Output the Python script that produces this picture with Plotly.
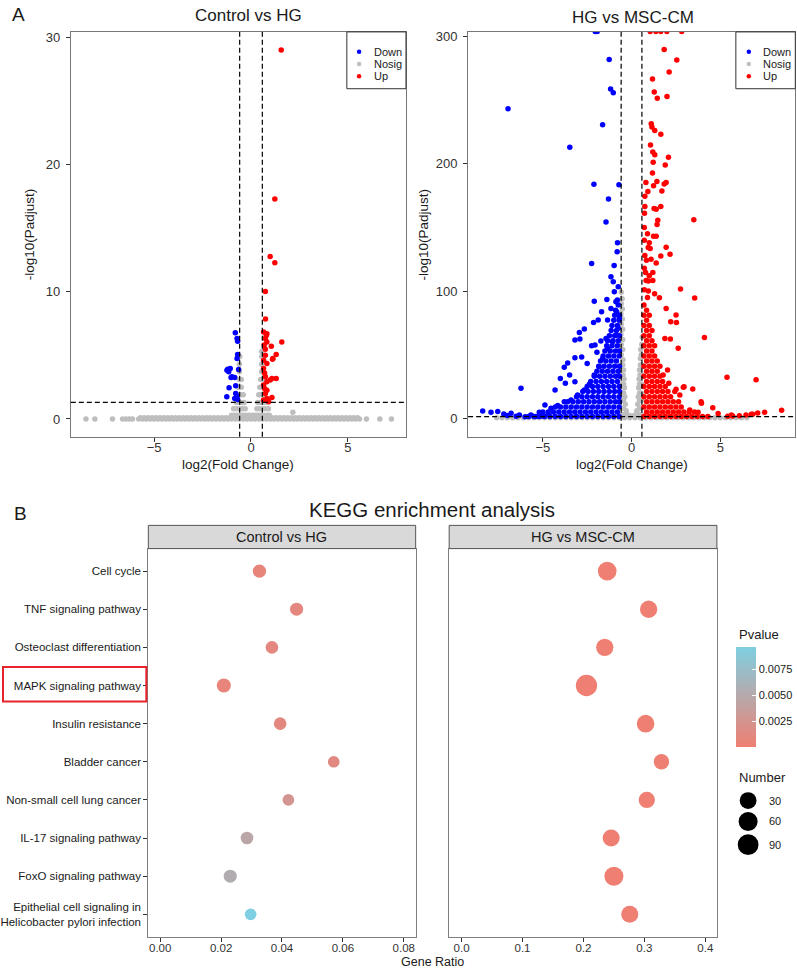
import math
import plotly.graph_objects as go

W, H = 797, 969
FONT = "Liberation Sans, Arial, sans-serif"

# ---------------- Volcano data: Control vs HG (log2FC, -log10 Padj) ----------------
ctrl_up = [
    (1.56, 28.97), (1.23, 17.27), (0.99, 12.76), (1.23, 12.26), (0.74, 10.02), (0.75, 7.85),
    (0.65, 6.83), (0.82, 6.70), (0.79, 6.55), (1.59, 6.05), (0.74, 6.31), (0.82, 6.05), (1.05, 5.71),
    (1.30, 5.06), (1.11, 4.69), (0.74, 5.47), (0.74, 5.00), (0.65, 4.61), (0.82, 4.35), (0.65, 3.96),
    (0.70, 3.60), (1.08, 3.18), (1.30, 3.18), (0.99, 3.05), (0.74, 3.31), (0.82, 2.92), (0.65, 2.66),
    (0.70, 2.40), (0.82, 2.26), (0.74, 2.00), (1.08, 1.69), (0.82, 1.61), (0.65, 1.48), (0.86, 1.48),
    (0.91, 1.35), (0.68, 5.80), (1.13, 4.75),
]
ctrl_down = [
    (-0.81, 6.78), (-0.72, 6.31), (-0.69, 6.10), (-0.69, 5.06), (-0.72, 4.74), (-0.64, 3.88),
    (-1.24, 3.83), (-1.07, 3.96), (-1.15, 3.70), (-1.20, 3.91), (-1.03, 3.26), (-0.84, 3.26),
    (-0.98, 3.31), (-0.79, 2.60), (-1.13, 2.45), (-0.79, 2.00), (-1.25, 1.74), (-0.84, 1.61),
    (-0.69, 1.53), (-0.72, 1.80),
]
ctrl_nosig = [
    (-8.52, 0), (-8.06, 0), (-7.15, 0), (-6.63, 0), (-6.46, 0), (-6.29, 0), (-6.12, 0),
    (-5.8, 0), (-5.6, 0), (-5.4, 0), (-5.2, 0), (-5.0, 0), (-4.8, 0), (-4.6, 0), (-4.4, 0),
    (-4.2, 0), (-4.0, 0), (-3.8, 0), (-3.6, 0), (-3.4, 0), (-3.2, 0), (-3.0, 0), (-2.8, 0),
    (-2.6, 0), (-2.4, 0), (-2.2, 0), (-2.0, 0), (-1.8, 0), (-1.6, 0), (-1.4, 0), (-1.2, 0),
    (-1.0, 0), (-0.8, 0), (-0.6, 0), (-0.4, 0), (-0.2, 0), (0.0, 0), (0.2, 0), (0.4, 0),
    (0.6, 0), (0.8, 0), (1.0, 0), (1.2, 0), (1.4, 0), (1.6, 0), (1.8, 0), (2.0, 0), (2.2, 0),
    (2.4, 0), (2.6, 0), (2.8, 0), (3.0, 0), (3.2, 0), (3.4, 0), (3.6, 0), (3.8, 0), (4.0, 0),
    (4.2, 0), (4.4, 0), (4.6, 0), (4.8, 0), (5.0, 0), (5.2, 0), (5.4, 0), (5.6, 0),
    (-5.7, 0.1), (-5.5, 0.1), (-5.3, 0.1), (-5.1, 0.1), (-4.9, 0.1), (-4.7, 0.1), (-4.5, 0.1),
    (-4.3, 0.1), (-4.1, 0.1), (-3.9, 0.1), (-3.7, 0.1), (-3.5, 0.1), (-3.3, 0.1), (-3.1, 0.1),
    (-2.9, 0.1), (-2.7, 0.1), (-2.5, 0.1), (-2.3, 0.1), (-2.1, 0.1), (-1.9, 0.1), (-1.7, 0.1),
    (-1.5, 0.1), (-1.3, 0.1), (-1.1, 0.1), (1.1, 0.1), (1.3, 0.1), (1.5, 0.1), (1.7, 0.1),
    (1.9, 0.1), (2.1, 0.1), (2.3, 0.1), (2.5, 0.1), (2.7, 0.1), (2.9, 0.1), (3.1, 0.1), (3.3, 0.1),
    (3.5, 0.1), (3.7, 0.1), (3.9, 0.1), (4.1, 0.1), (4.3, 0.1), (4.5, 0.1), (4.7, 0.1), (4.9, 0.1),
    (5.1, 0.1), (5.3, 0.1), (5.5, 0.1),
    (5.96, 0), (6.65, 0), (7.25, 0), (2.16, 0.52),
    (-1.0, 0.3), (-0.85, 0.3), (-0.7, 0.3), (-0.55, 0.3), (-0.4, 0.3), (-0.25, 0.3), (-0.1, 0.3),
    (0.1, 0.3), (0.25, 0.3), (0.4, 0.3), (0.55, 0.3), (0.7, 0.3), (0.85, 0.3), (0.95, 0.3),
    (-0.9, 0.8), (-0.75, 0.8), (-0.6, 0.8), (-0.45, 0.8), (-0.3, 0.8),
    (0.3, 0.8), (0.45, 0.8), (0.6, 0.8), (0.75, 0.8), (0.9, 0.8),
    (-0.75, 1.3), (-0.6, 1.3), (-0.45, 1.3), (-0.35, 1.3), (0.35, 1.3), (0.45, 1.3), (0.6, 1.3), (0.75, 1.3),
    (-0.65, 1.9), (-0.5, 1.9), (-0.4, 1.9), (0.4, 1.9), (0.5, 1.9), (0.65, 1.9),
    (-0.65, 2.5), (-0.5, 2.5), (0.45, 2.5), (0.6, 2.5),
    (-0.6, 3.1), (-0.5, 3.1), (0.5, 3.1), (0.6, 3.1),
    (-0.6, 3.7), (0.55, 3.7), (-0.6, 4.3), (0.55, 4.3), (-0.58, 4.9), (0.56, 4.9), (0.55, 5.3),
]

# ---------------- Volcano data: HG vs MSC-CM ----------------
hg_down = [
    (-1.93, 304), (-2.05, 304), (-1.26, 282.1), (-6.96, 243.4), (-1.18, 258.8), (-1.03, 255.9),
    (-1.63, 230.7), (-3.48, 213.0), (-2.12, 184.0), (-0.71, 183.5), (-1.30, 172.4), (-1.44, 154.4),
    (-0.79, 138.0), (-0.81, 131.0), (-2.25, 121.6), (-0.98, 120.2),
    (-1.16, 111.2), (-1.03, 107.3), (-0.75, 103.4), (-0.97, 99.5), (-2.10, 92.1), (-1.39, 93.4),
    (-0.88, 91.6), (-1.69, 83.8), (-1.16, 86.4), (-2.14, 75.4), (-1.88, 77.2), (-1.35, 77.2),
    (-2.66, 70.2), (-2.94, 67.5), (-3.19, 61.5), (-2.91, 62.3), (-2.25, 57.1), (-2.06, 57.6),
    (-1.73, 60.7), (-1.44, 62.8), (-3.19, 47.7), (-2.81, 48.2), (-3.60, 43.5), (-3.79, 40.1),
    (-3.49, 34.1), (-4.01, 31.4), (-3.73, 27.5), (-3.19, 28.8), (-4.31, 22.3), (-6.23, 23.6),
    (-4.88, 10.5), (-8.39, 5.8), (-7.92, 4.8), (-7.54, 5.3), (-6.79, 4.0), (-6.32, 2.6),
    (-5.67, 2.6), (-5.20, 4.8), (-4.54, 7.9), (-4.16, 10.0), (-3.79, 13.1), (-3.41, 14.4),
    (-3.04, 18.3), (-2.66, 22.3), (-2.38, 26.7), (-2.10, 34.1), (-1.82, 40.6), (-1.63, 47.1),
    (-1.35, 55.0), (-1.07, 60.2), (-0.88, 65.4), (-0.75, 70.7), (-0.69, 78.5), (-0.84, 83.8),
    (-7.2, 3.5), (-7.0, 2.2), (-6.5, 1.6), (-6.0, 1.2), (-5.4, 1.5), (-5.0, 1.8), (-4.7, 3.2),
    (-2.5, 43.0), (-1.95, 52.0),
    # dense cloud near the cut-off
    (-5.8, 1.5), (-5.5, 1.5), (-5.2, 1.5), (-4.9, 1.5), (-4.6, 1.5), (-4.3, 1.5), (-4.0, 1.5),
    (-3.7, 1.5), (-3.4, 1.5), (-3.1, 1.5), (-2.8, 1.5), (-2.5, 1.5), (-2.2, 1.5), (-1.9, 1.5),
    (-1.6, 1.5), (-1.3, 1.5), (-1.0, 1.5), (-0.7, 1.5),
    (-5.0, 5), (-4.7, 5), (-4.4, 5), (-4.1, 5), (-3.8, 5), (-3.5, 5), (-3.2, 5), (-2.9, 5),
    (-2.6, 5), (-2.3, 5), (-2.0, 5), (-1.7, 5), (-1.4, 5), (-1.1, 5), (-0.8, 5),
    (-4.3, 9), (-4.0, 9), (-3.7, 9), (-3.4, 9), (-3.1, 9), (-2.8, 9), (-2.5, 9), (-2.2, 9),
    (-1.9, 9), (-1.6, 9), (-1.3, 9), (-1.0, 9), (-0.7, 9),
    (-3.6, 13), (-3.3, 13), (-3.0, 13), (-2.7, 13), (-2.4, 13), (-2.1, 13), (-1.8, 13),
    (-1.5, 13), (-1.2, 13), (-0.9, 13), (-0.68, 13),
    (-3.1, 17), (-2.8, 17), (-2.5, 17), (-2.2, 17), (-1.9, 17), (-1.6, 17), (-1.3, 17),
    (-1.0, 17), (-0.7, 17),
    (-2.75, 21), (-2.45, 21), (-2.15, 21), (-1.85, 21), (-1.55, 21), (-1.25, 21), (-0.95, 21), (-0.68, 21),
    (-2.5, 25), (-2.2, 25), (-1.9, 25), (-1.6, 25), (-1.3, 25), (-1.0, 25), (-0.7, 25),
    (-2.3, 29), (-2.0, 29), (-1.7, 29), (-1.4, 29), (-1.1, 29), (-0.8, 29),
    (-2.1, 33), (-1.8, 33), (-1.5, 33), (-1.2, 33), (-0.9, 33), (-0.68, 33),
    (-1.95, 37), (-1.65, 37), (-1.35, 37), (-1.05, 37), (-0.75, 37),
    (-1.85, 41), (-1.55, 41), (-1.25, 41), (-0.95, 41), (-0.68, 41),
    (-1.75, 45), (-1.45, 45), (-1.15, 45), (-0.85, 45),
    (-1.6, 49), (-1.3, 49), (-1.0, 49), (-0.7, 49),
    (-1.5, 53), (-1.2, 53), (-0.9, 53), (-0.68, 53),
    (-1.4, 57), (-1.1, 57), (-0.8, 57),
    (-1.35, 61), (-1.05, 61), (-0.75, 61),
    (-1.25, 65), (-0.95, 65), (-0.68, 65),
    (-1.15, 69), (-0.85, 69), (-1.1, 73), (-0.8, 73), (-1.0, 77), (-0.7, 77),
    (-0.95, 81), (-0.68, 81), (-0.9, 85), (-0.75, 89), (-0.8, 93),
]
hg_up = [
    (1.05, 304), (1.37, 304), (1.65, 304), (1.99, 304), (2.83, 304),
    (1.84, 289.9), (2.55, 281.6), (2.12, 272.1), (1.18, 266.6), (1.28, 256.4), (1.45, 251.5),
    (2.00, 253.0), (1.11, 231.6), (1.15, 229.0), (1.31, 226.3), (1.65, 223.2), (1.07, 214.8),
    (1.20, 209.3), (1.31, 207.2), (2.08, 205.2), (1.22, 201.2), (1.90, 199.1), (1.18, 192.9),
    (0.81, 185.3), (1.43, 186.1), (1.95, 185.3), (1.84, 184.2), (1.24, 182.7), (0.92, 178.2),
    (1.71, 178.7), (0.75, 174.6), (0.75, 166.4), (0.73, 161.2), (1.27, 164.9), (1.39, 164.4),
    (1.65, 166.4), (1.48, 155.7), (1.44, 152.3), (3.51, 156.0), (1.24, 143.2), (1.39, 143.2),
    (0.94, 134.3), (1.05, 133.5), (1.95, 134.5), (2.17, 129.0), (1.65, 127.5), (0.84, 124.3),
    (1.39, 122.0), (0.79, 114.7), (1.20, 114.7), (0.82, 108.4), (1.20, 108.4), (2.76, 101.6),
    (3.56, 94.5), (1.57, 94.8), (1.95, 86.4), (2.51, 81.2), (4.11, 63.6), (2.63, 55.0),
    (2.19, 62.3), (5.38, 32.2), (7.02, 30.4), (3.45, 23.1), (2.51, 22.8), (2.92, 24.4),
    (3.92, 13.1), (4.58, 8.4), (8.46, 6.3), (7.11, 4.2), (6.83, 3.2), (6.45, 2.7), (5.70, 1.9),
    (5.42, 1.6), (6.08, 2.1), (2.53, 75.4), (2.21, 75.9), (1.88, 62.8), (2.03, 38.0), (1.78, 34.1),
    (2.10, 27.5), (2.96, 24.9), (2.44, 21.0), (2.72, 18.3), (3.94, 11.8), (3.28, 6.6), (3.75, 4.7),
    (4.88, 3.7), (5.63, 2.6), (7.50, 4.7), (6.75, 3.2),
    (0.72, 150), (0.90, 145), (0.72, 140), (1.00, 138), (0.75, 128), (1.10, 125), (0.72, 118),
    (1.00, 112), (0.95, 100), (1.30, 98),
    # dense cloud near the cut-off
    (0.7, 1.5), (1.0, 1.5), (1.3, 1.5), (1.6, 1.5), (1.9, 1.5), (2.2, 1.5), (2.5, 1.5), (2.8, 1.5),
    (3.1, 1.5), (3.4, 1.5), (3.7, 1.5), (4.0, 1.5), (4.3, 1.5),
    (0.85, 5), (1.15, 5), (1.45, 5), (1.75, 5), (2.05, 5), (2.35, 5), (2.65, 5), (2.95, 5),
    (3.25, 5), (3.55, 5),
    (0.7, 9), (1.0, 9), (1.3, 9), (1.6, 9), (1.9, 9), (2.2, 9), (2.5, 9), (2.8, 9),
    (0.85, 13), (1.15, 13), (1.45, 13), (1.75, 13), (2.05, 13), (2.35, 13), (2.65, 13),
    (0.7, 17), (1.0, 17), (1.3, 17), (1.6, 17), (1.9, 17), (2.2, 17),
    (0.85, 21), (1.15, 21), (1.45, 21), (1.75, 21), (2.05, 21),
    (0.7, 25), (1.0, 25), (1.3, 25), (1.6, 25), (1.9, 25),
    (0.85, 29), (1.15, 29), (1.45, 29), (1.75, 29),
    (0.7, 33), (1.0, 33), (1.3, 33), (1.6, 33),
    (0.85, 37), (1.15, 37), (1.45, 37),
    (0.7, 41), (1.0, 41), (1.3, 41), (1.6, 41),
    (0.85, 45), (1.15, 45), (1.45, 45),
    (0.7, 49), (1.0, 49), (1.3, 49),
    (0.85, 53), (1.15, 53), (0.7, 57), (1.0, 57), (1.3, 57),
    (0.85, 61), (1.15, 61), (0.7, 65), (1.0, 65), (0.85, 69), (1.15, 69),
    (0.7, 73), (1.0, 73), (0.85, 77), (0.7, 81), (1.0, 81), (0.85, 85), (0.7, 89),
    (0.9, 95), (0.72, 101), (0.95, 108),
]
hg_nosig = [
    (-7.6, 0.5), (-7.3, 0.5), (-7.0, 0.5), (-6.7, 0.5), (-6.4, 0.5), (-6.1, 0.5), (-5.8, 0.5),
    (-5.5, 0.5), (-5.2, 0.5), (-4.9, 0.5), (-4.6, 0.5), (-4.3, 0.5), (-4.0, 0.5), (-3.7, 0.5),
    (-3.4, 0.5), (-3.1, 0.5), (-2.8, 0.5), (-2.5, 0.5), (-2.2, 0.5), (-1.9, 0.5), (-1.6, 0.5),
    (-1.3, 0.5), (-1.0, 0.5), (-0.7, 0.5), (-0.4, 0.5), (-0.1, 0.5), (0.2, 0.5), (0.5, 0.5),
    (0.8, 0.5), (1.1, 0.5), (1.4, 0.5), (1.7, 0.5), (2.0, 0.5), (2.3, 0.5), (2.6, 0.5), (2.9, 0.5),
    (3.2, 0.5), (3.5, 0.5), (3.8, 0.5), (4.1, 0.5), (4.4, 0.5), (4.7, 0.5), (5.0, 0.5), (5.3, 0.5),
    (5.6, 0.5), (5.9, 0.5), (6.2, 0.5), (6.5, 0.5),
    (-0.55, 3), (-0.4, 3), (-0.25, 3), (-0.1, 2), (0.1, 2), (0.25, 3), (0.4, 3), (0.55, 3),
    (-0.55, 8), (-0.45, 8), (-0.3, 6), (0.3, 6), (0.45, 8), (0.55, 8),
    (-0.55, 14), (-0.45, 14), (-0.35, 11), (0.35, 11), (0.45, 14), (0.55, 14),
    (-0.55, 20), (-0.45, 20), (-0.38, 17), (0.38, 17), (0.45, 20), (0.55, 20),
    (-0.55, 27), (-0.45, 27), (-0.4, 24), (0.4, 24), (0.45, 27), (0.55, 27),
    (-0.58, 34), (-0.48, 34), (-0.42, 31), (0.42, 31), (0.48, 34), (0.58, 34),
    (-0.58, 42), (-0.5, 42), (-0.45, 38), (0.45, 38), (0.5, 42), (0.58, 42),
    (-0.58, 50), (-0.48, 46), (0.5, 47), (0.55, 50), (-0.5, 54), (0.52, 54),
    (-0.58, 58), (0.58, 58), (-0.5, 62), (-0.6, 66), (0.6, 64), (-0.5, 70),
    (-0.58, 74), (-0.52, 78), (-0.6, 82), (-0.52, 86), (-0.58, 90), (-0.53, 94), (-0.58, 99),
]

fc_cut = 0.585          # log2(1.5)
padj_cut = 1.301        # -log10(0.05)

# ---------------- KEGG bubble data ----------------
pathways = [
    "Cell cycle", "TNF signaling pathway", "Osteoclast differentiation", "MAPK signaling pathway",
    "Insulin resistance", "Bladder cancer", "Non-small cell lung cancer", "IL-17 signaling pathway",
    "FoxO signaling pathway", "Epithelial cell signaling in<br>Helicobacter pylori infection",
]
ctrl_ratio = [0.0326, 0.0448, 0.0367, 0.0209, 0.0394, 0.0570, 0.0421, 0.0285, 0.0230, 0.0297]
ctrl_number = [5, 4, 3, 8, 3, 2, 2, 3, 4, 2]
ctrl_pvalue = [0.0008, 0.0010, 0.0010, 0.0006, 0.0011, 0.0012, 0.0026, 0.0046, 0.0054, 0.0097]
hg_ratio = [0.239, 0.307, 0.235, 0.205, 0.302, 0.328, 0.304, 0.2455, 0.250, 0.276]
hg_number = [54, 35, 35, 100, 40, 16, 24, 32, 59, 32]
hg_pvalue = [1e-6, 1e-6, 1e-6, 1e-6, 1e-6, 1e-6, 1e-6, 1e-6, 1e-6, 1e-6]
size_breaks = [30, 60, 90]

# ---------------- helpers ----------------
def fx(px):
    return px / W

def fy(py):
    return 1 - py / H

all_numbers = ctrl_number + hg_number
N_MIN, N_MAX = min(all_numbers), max(all_numbers)
D_MIN, D_MAX = 11.7, 21.3

def bubble_d(n):
    t = (n - N_MIN) / (N_MAX - N_MIN)
    return D_MIN + (D_MAX - D_MIN) * math.sqrt(max(t, 0))

all_p = ctrl_pvalue + hg_pvalue
P_MIN, P_MAX = min(all_p), max(all_p)

BLUE, RED, GREY = "#0000FF", "#FF0000", "#BEBEBE"
PT = 5.5

fig = go.Figure()

def add_volcano(xa, ya, nosig, down, up):
    for pts, col in ((nosig, GREY), (down, BLUE), (up, RED)):
        fig.add_trace(go.Scatter(
            x=[p[0] for p in pts], y=[p[1] for p in pts], mode="markers",
            marker=dict(color=col, size=PT, line=dict(width=0)),
            xaxis=xa, yaxis=ya, showlegend=False, hoverinfo="x+y",
        ))

add_volcano("x", "y", ctrl_nosig, ctrl_down, ctrl_up)
add_volcano("x2", "y2", hg_nosig, hg_down, hg_up)

for ratio, number, pv, xa, ya in ((ctrl_ratio, ctrl_number, ctrl_pvalue, "x3", "y3"),
                                  (hg_ratio, hg_number, hg_pvalue, "x4", "y4")):
    fig.add_trace(go.Scatter(
        x=ratio, y=pathways, mode="markers",
        marker=dict(size=[bubble_d(n) for n in number], color=pv, coloraxis="coloraxis",
                    line=dict(width=0), opacity=1),
        xaxis=xa, yaxis=ya, showlegend=False, customdata=number,
    ))

AX = dict(showgrid=False, zeroline=False, showline=True, mirror=True, linewidth=1,
          ticks="outside", ticklen=4, tickwidth=1, tickcolor="#333333")

top_y_dom = [fy(435), fy(29)]
bot_y_dom = [fy(936.7), fy(547.3)]
TOPFONT = dict(size=13, color="#333333")

fig.update_layout(
    width=W, height=H, margin=dict(l=0, r=0, t=0, b=0),
    paper_bgcolor="white", plot_bgcolor="white", showlegend=False,
    font=dict(family=FONT, color="#1a1a1a"),
    xaxis=dict(AX, domain=[fx(70), fx(406)], range=[-9.3, 8.0], anchor="y",
               tickvals=[-5, 0, 5], linecolor="#777777", tickfont=TOPFONT, ticklabelstandoff=-5),
    yaxis=dict(AX, domain=top_y_dom, range=[-1.39, 30.4], anchor="x",
               tickvals=[0, 10, 20, 30], linecolor="#777777", tickfont=TOPFONT, ticklabelstandoff=3),
    xaxis2=dict(AX, domain=[fx(468.3), fx(796.3)], range=[-9.21, 9.23], anchor="y2",
                tickvals=[-5, 0, 5], linecolor="#777777", tickfont=TOPFONT, ticklabelstandoff=-5),
    yaxis2=dict(AX, domain=top_y_dom, range=[-14.4, 303.7], anchor="x2",
                tickvals=[0, 100, 200, 300], linecolor="#777777", tickfont=TOPFONT, ticklabelstandoff=3),
    xaxis3=dict(AX, domain=[fx(147.7), fx(415.7)], range=[-0.0039, 0.0839], anchor="y3",
                tickvals=[0, 0.02, 0.04, 0.06, 0.08], tickformat=".2f", linecolor="#7f7f7f",
                tickfont=dict(size=11.5, color="#333333"), ticklabelstandoff=-4),
    yaxis3=dict(AX, domain=bot_y_dom, range=[9.59, -0.59], anchor="x3", type="category",
                categoryorder="array", categoryarray=pathways, linecolor="#7f7f7f",
                tickfont=dict(size=11.5, color="#1a1a1a")),
    xaxis4=dict(AX, domain=[fx(449.3), fx(717.7)], range=[-0.0203, 0.419], anchor="y4",
                tickvals=[0, 0.1, 0.2, 0.3, 0.4], tickformat=".1f", linecolor="#7f7f7f",
                tickfont=dict(size=11.5, color="#333333"), ticklabelstandoff=-4),
    yaxis4=dict(AX, domain=bot_y_dom, range=[9.59, -0.59], anchor="x4", type="category",
                categoryorder="array", categoryarray=pathways, linecolor="#7f7f7f",
                showticklabels=False, ticks=""),
    coloraxis=dict(
        cmin=P_MIN, cmax=P_MAX,
        colorscale=[[0, "#EF7F72"], [0.5, "#B8A8AA"], [1, "#7ECFE1"]],
        colorbar=dict(
            x=fx(737.3), xanchor="left", y=fy(696), yanchor="middle",
            len=100, lenmode="pixels", thickness=20, thicknessmode="pixels",
            outlinewidth=0, xpad=0, ypad=0,
            tickvals=[0.0025, 0.005, 0.0075], ticktext=["0.0025", "0.0050", "0.0075"],
            ticks="inside", ticklen=4, tickcolor="white",
            tickfont=dict(size=11, family=FONT, color="#1a1a1a"),
            title=dict(text=""),
        ),
    ),
)

shapes = []
DASH = "5px,3px"
for xr, yr in (("x", "y"), ("x2", "y2")):
    for xv in (-fc_cut, fc_cut):
        shapes.append(dict(type="line", xref=xr, yref=f"{yr} domain", x0=xv, x1=xv, y0=0, y1=1,
                           line=dict(color="black", width=1.2, dash=DASH), layer="above"))
    shapes.append(dict(type="line", xref=f"{xr} domain", yref=yr, x0=0, x1=1, y0=padj_cut, y1=padj_cut,
                       line=dict(color="black", width=1.2, dash=DASH), layer="above"))

def rect(x0, y0, x1, y1, fill, line_col, lw=1):
    return dict(type="rect", xref="paper", yref="paper", x0=fx(x0), x1=fx(x1), y0=fy(y1), y1=fy(y0),
                fillcolor=fill, line=dict(color=line_col, width=lw), layer="above")

def circle(cx, cy, d, col):
    return dict(type="circle", xref="paper", yref="paper", x0=fx(cx - d / 2), x1=fx(cx + d / 2),
                y0=fy(cy + d / 2), y1=fy(cy - d / 2), fillcolor=col, line=dict(width=0), layer="above")

annotations = []

def text(x, y, s, size, anchor="center", color="#1a1a1a", angle=0):
    annotations.append(dict(x=fx(x), y=fy(y), xref="paper", yref="paper", text=s, showarrow=False,
                            xanchor=anchor, yanchor="middle", textangle=angle,
                            font=dict(size=size, family=FONT, color=color)))

# volcano legends
legend_labels = ["Down", "Nosig", "Up"]
legend_cols = [BLUE, GREY, RED]
for bx0, bx1, mx in ((346.7, 406, 359), (736.7, 796.3, 749.7)):
    shapes.append(rect(bx0, 29, bx1, 86, "white", "#333333"))
    for i, (lab, col) in enumerate(zip(legend_labels, legend_cols)):
        cy = 49 + i * 12.2
        shapes.append(circle(mx, cy, 4.5, col))
        text(mx + 12.5, cy, lab, 11, anchor="left")

# strips
shapes.append(rect(147.7, 524, 415.7, 547.3, "#D9D9D9", "#555555"))
shapes.append(rect(449.3, 524, 717.7, 547.3, "#D9D9D9", "#555555"))

# highlight box around MAPK label
shapes.append(rect(2, 666, 145.7, 700.7, "rgba(0,0,0,0)", "#E8232B", 2))

# size legend
for i, n in enumerate(size_breaks):
    cy = [800, 821, 844.3][i]
    shapes.append(circle(749, cy, bubble_d(n), "black"))
    text(767.7, cy, str(n), 11, anchor="left")

fig.update_layout(shapes=shapes)

text(18, 12, "A", 19)
text(248.3, 12.5, "Control vs HG", 17)
text(634, 15, "HG vs MSC-CM", 17)
text(28, 232, "-log10(Padjust)", 13.5, angle=-90)
text(423.3, 232, "-log10(Padjust)", 13.5, angle=-90)
text(238, 463, "log2(Fold Change)", 13.5)
text(632.5, 463, "log2(Fold Change)", 13.5)
text(19.5, 511.7, "B", 19)
text(432.5, 508.3, "KEGG enrichment analysis", 20.5)
text(281.7, 535.7, "Control vs HG", 14.5)
text(583.5, 535.7, "HG vs MSC-CM", 14.5)
text(433, 961.7, "Gene Ratio", 12.5)
text(737.7, 633.3, "Pvalue", 13, anchor="left")
text(737.7, 777, "Number", 13, anchor="left")

fig.update_layout(annotations=annotations)

fig.write_html("out.html", config={"displayModeBar": False},
               post_script="document.body.style.margin='0px';")
